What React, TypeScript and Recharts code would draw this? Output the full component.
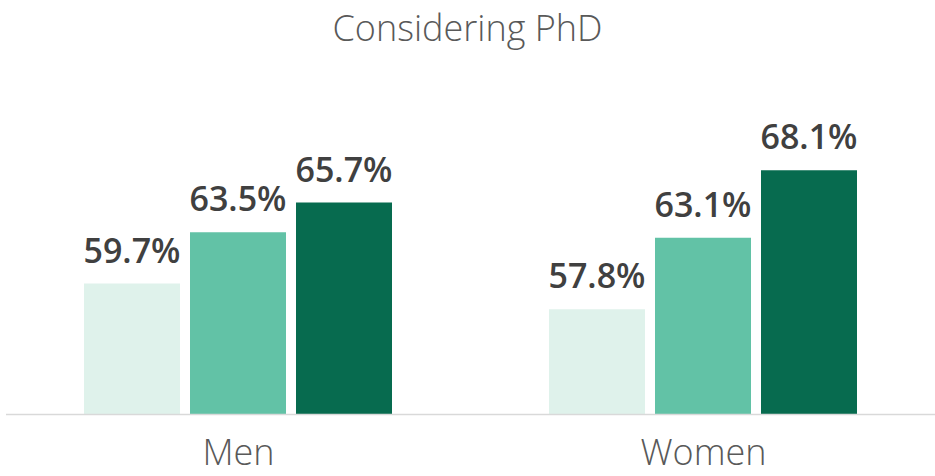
import { Bar, BarChart, LabelList, XAxis, YAxis } from "recharts";

const groups = ["Men", "Women"];
const lowValues = [59.7, 57.8];
const midValues = [63.5, 63.1];
const highValues = [65.7, 68.1];

const colors = ["#dff2eb", "#62c2a6", "#076b4f"];

const chartData = groups.map((group, i) => ({
  group,
  low: lowValues[i],
  mid: midValues[i],
  high: highValues[i],
}));

const fontFamily = "'Open Sans', 'Segoe UI', sans-serif";

export default function App() {
  const labelStyle = {
    fill: "#404040",
    fontSize: 34,
    fontWeight: 600,
    fontFamily,
  };

  return (
    <div style={{ position: "absolute", left: 0, top: 0, width: 935, height: 476, background: "#fff" }}>
      <div
        style={{
          position: "absolute",
          top: 3,
          left: 0,
          width: 935,
          textAlign: "center",
          fontFamily,
          fontWeight: 300,
          fontSize: 36,
          color: "#595959",
          zIndex: 1,
        }}
      >
        Considering PhD
      </div>
      <BarChart
        width={935}
        height={476}
        data={chartData}
        margin={{ top: 144.5, right: -1, bottom: 0, left: 6 }}
        barCategoryGap={78}
        barGap={10}
      >
        <XAxis
          dataKey="group"
          height={61.5}
          tickLine={false}
          axisLine={{ stroke: "#d9d9d9", strokeWidth: 1.5 }}
          tickMargin={19}
          tick={{ fill: "#595959", fontSize: 36, fontFamily, fontWeight: 300 }}
        />
        <YAxis hide domain={[50, 70]} />
        <Bar dataKey="low" fill={colors[0]} isAnimationActive={false}>
          <LabelList dataKey="low" position="top" offset={21} formatter={(v: any) => `${v}%`} style={labelStyle} />
        </Bar>
        <Bar dataKey="mid" fill={colors[1]} isAnimationActive={false}>
          <LabelList dataKey="mid" position="top" offset={21} formatter={(v: any) => `${v}%`} style={labelStyle} />
        </Bar>
        <Bar dataKey="high" fill={colors[2]} isAnimationActive={false}>
          <LabelList dataKey="high" position="top" offset={21} formatter={(v: any) => `${v}%`} style={labelStyle} />
        </Bar>
      </BarChart>
    </div>
  );
}
